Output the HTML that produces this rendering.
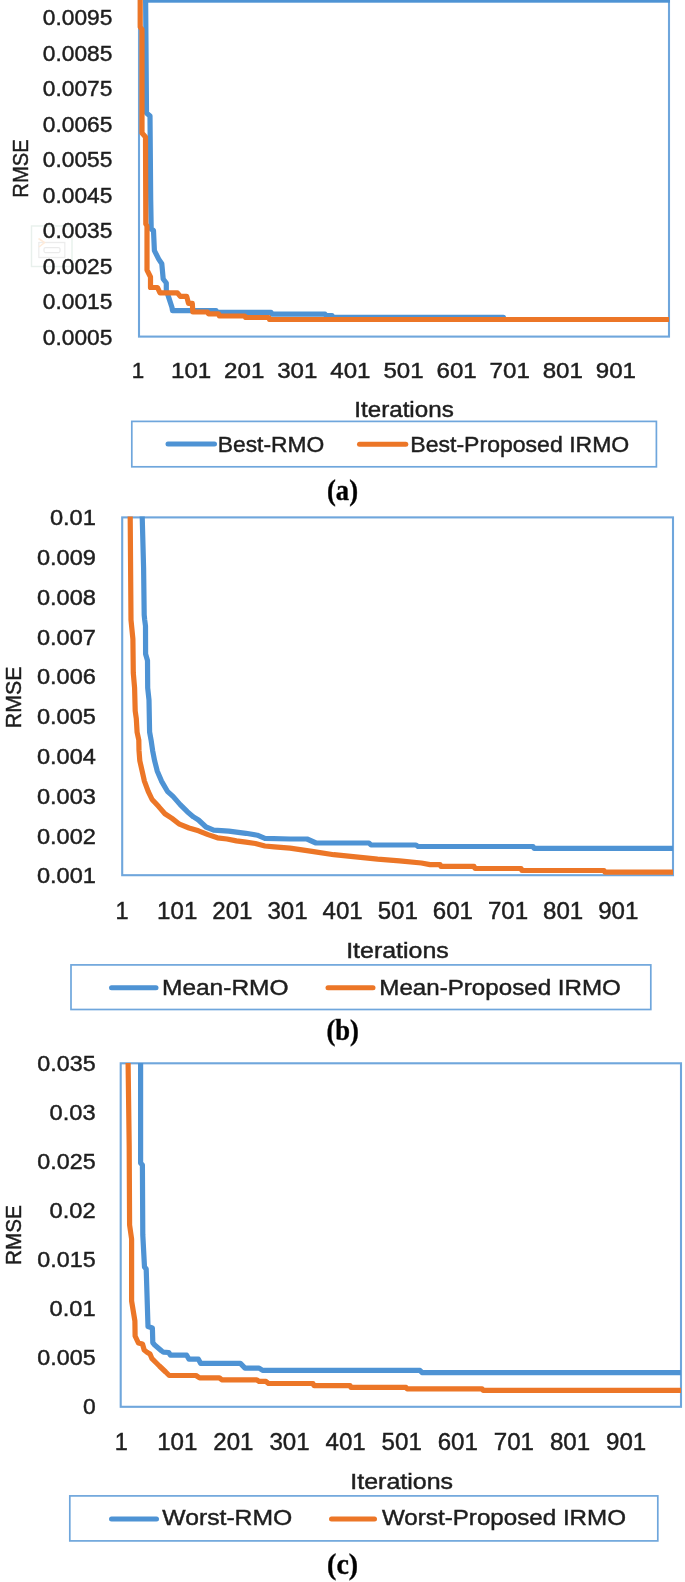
<!DOCTYPE html>
<html><head><meta charset="utf-8"><title>RMSE convergence charts</title>
<style>
html,body{margin:0;padding:0;background:#fff;width:685px;height:1582px;overflow:hidden;}
svg{display:block;filter:blur(0.3px);}
svg text{font-family:"Liberation Sans",sans-serif;fill:#1e1e1e;stroke:#1e1e1e;stroke-width:0.45px;}
svg text.cap{font-family:"Liberation Serif",serif;font-weight:bold;fill:#000;}
</style></head>
<body>
<svg width="685" height="1582" viewBox="0 0 685 1582">
<rect width="685" height="1582" fill="#fff"/>
<g fill="none" opacity="0.9"><rect x="31.5" y="226" width="40.5" height="40.5" stroke="#e6efea" stroke-width="1.4"/><rect x="38.8" y="242.5" width="26" height="15" stroke="#ebebeb" stroke-width="1.3"/><rect x="44" y="247.6" width="16" height="5" rx="1.5" stroke="#e8e8e8" stroke-width="1.2"/><path d="M38.5,238.5 L44.5,242.5 L39,247" stroke="#fee9d6" stroke-width="1.6"/></g>
<rect x="139" y="-1" width="530" height="337.6" fill="none" stroke="#6fa6dc" stroke-width="2.1"/>
<text x="112.3" y="25.1" font-size="22.2" text-anchor="end" textLength="69.5" lengthAdjust="spacingAndGlyphs">0.0095</text>
<text x="112.3" y="60.6" font-size="22.2" text-anchor="end" textLength="69.5" lengthAdjust="spacingAndGlyphs">0.0085</text>
<text x="112.3" y="96.1" font-size="22.2" text-anchor="end" textLength="69.5" lengthAdjust="spacingAndGlyphs">0.0075</text>
<text x="112.3" y="131.6" font-size="22.2" text-anchor="end" textLength="69.5" lengthAdjust="spacingAndGlyphs">0.0065</text>
<text x="112.3" y="167.1" font-size="22.2" text-anchor="end" textLength="69.5" lengthAdjust="spacingAndGlyphs">0.0055</text>
<text x="112.3" y="202.6" font-size="22.2" text-anchor="end" textLength="69.5" lengthAdjust="spacingAndGlyphs">0.0045</text>
<text x="112.3" y="238.0" font-size="22.2" text-anchor="end" textLength="69.5" lengthAdjust="spacingAndGlyphs">0.0035</text>
<text x="112.3" y="273.5" font-size="22.2" text-anchor="end" textLength="69.5" lengthAdjust="spacingAndGlyphs">0.0025</text>
<text x="112.3" y="309.0" font-size="22.2" text-anchor="end" textLength="69.5" lengthAdjust="spacingAndGlyphs">0.0015</text>
<text x="112.3" y="344.5" font-size="22.2" text-anchor="end" textLength="69.5" lengthAdjust="spacingAndGlyphs">0.0005</text>
<text x="138.0" y="378.0" font-size="22.4" text-anchor="middle">1</text>
<text x="191.1" y="378.0" font-size="22.4" text-anchor="middle" textLength="40.2" lengthAdjust="spacingAndGlyphs">101</text>
<text x="244.2" y="378.0" font-size="22.4" text-anchor="middle" textLength="40.2" lengthAdjust="spacingAndGlyphs">201</text>
<text x="297.3" y="378.0" font-size="22.4" text-anchor="middle" textLength="40.2" lengthAdjust="spacingAndGlyphs">301</text>
<text x="350.4" y="378.0" font-size="22.4" text-anchor="middle" textLength="40.2" lengthAdjust="spacingAndGlyphs">401</text>
<text x="403.5" y="378.0" font-size="22.4" text-anchor="middle" textLength="40.2" lengthAdjust="spacingAndGlyphs">501</text>
<text x="456.6" y="378.0" font-size="22.4" text-anchor="middle" textLength="40.2" lengthAdjust="spacingAndGlyphs">601</text>
<text x="509.7" y="378.0" font-size="22.4" text-anchor="middle" textLength="40.2" lengthAdjust="spacingAndGlyphs">701</text>
<text x="562.8" y="378.0" font-size="22.4" text-anchor="middle" textLength="40.2" lengthAdjust="spacingAndGlyphs">801</text>
<text x="615.9" y="378.0" font-size="22.4" text-anchor="middle" textLength="40.2" lengthAdjust="spacingAndGlyphs">901</text>
<text x="404.0" y="416.6" font-size="21.5" text-anchor="middle" textLength="99.5" lengthAdjust="spacingAndGlyphs">Iterations</text>
<polyline points="145.6,-3.0 146.5,113.0 150.0,116.0 150.7,200.0 151.2,229.0 153.5,230.5 154.4,250.6 158.7,259.1 161.8,263.7 163.2,279.0 166.3,283.0 166.3,290.0 168.3,296.1 172.0,307.5 172.5,310.6 216.0,310.6 217.0,312.4 271.0,312.4 272.0,314.1 325.0,314.1 326.0,315.6 332.0,315.6 333.0,317.3 503.5,317.3 504.0,319.5 669.0,319.5" fill="none" stroke="#4e93d4" stroke-width="5.2" stroke-linejoin="round" stroke-linecap="butt"/>
<rect x="143" y="0" width="527" height="2.7" fill="#4e93d4"/>
<polyline points="140.2,-3.0 140.2,27.0 142.0,29.5 142.0,133.0 145.5,137.0 145.8,224.0 147.0,226.0 147.0,270.0 150.5,277.0 150.5,287.5 157.5,287.5 159.9,292.8 177.4,292.8 180.3,296.3 186.7,296.3 188.5,303.3 192.3,303.3 192.8,312.0 207.6,312.0 208.5,313.9 218.6,313.9 219.4,316.0 244.9,316.0 245.5,317.5 268.9,317.5 269.5,319.5 669.0,319.5" fill="none" stroke="#ec7627" stroke-width="5.2" stroke-linejoin="round" stroke-linecap="butt"/>
<rect x="131.8" y="421.4" width="524.6" height="45.4" fill="none" stroke="#6fa6dc" stroke-width="1.7"/>
<line x1="168" y1="444" x2="214.5" y2="444" stroke="#4e93d4" stroke-width="5" stroke-linecap="round"/>
<text x="217.8" y="452.1" font-size="22.5" text-anchor="start" textLength="106.5" lengthAdjust="spacingAndGlyphs">Best-RMO</text>
<line x1="359.5" y1="444.2" x2="405.8" y2="444.2" stroke="#ec7627" stroke-width="5" stroke-linecap="round"/>
<text x="410.3" y="452.1" font-size="22.5" text-anchor="start" textLength="219" lengthAdjust="spacingAndGlyphs">Best-Proposed IRMO</text>
<text x="342.5" y="499.5" class="cap" font-size="29.5" text-anchor="middle" textLength="31" lengthAdjust="spacingAndGlyphs">(a)</text>
<text transform="translate(28,168.5) rotate(-90)" font-size="21.5" text-anchor="middle" textLength="58.4" lengthAdjust="spacingAndGlyphs">RMSE</text>
<rect x="122.2" y="517.4" width="550.8" height="357.80000000000007" fill="none" stroke="#6fa6dc" stroke-width="2.1"/>
<text x="95.9" y="525.1" font-size="22.2" text-anchor="end" textLength="46" lengthAdjust="spacingAndGlyphs">0.01</text>
<text x="95.9" y="564.9" font-size="22.2" text-anchor="end" textLength="59" lengthAdjust="spacingAndGlyphs">0.009</text>
<text x="95.9" y="604.7" font-size="22.2" text-anchor="end" textLength="59" lengthAdjust="spacingAndGlyphs">0.008</text>
<text x="95.9" y="644.5" font-size="22.2" text-anchor="end" textLength="59" lengthAdjust="spacingAndGlyphs">0.007</text>
<text x="95.9" y="684.3" font-size="22.2" text-anchor="end" textLength="59" lengthAdjust="spacingAndGlyphs">0.006</text>
<text x="95.9" y="724.1" font-size="22.2" text-anchor="end" textLength="59" lengthAdjust="spacingAndGlyphs">0.005</text>
<text x="95.9" y="763.9" font-size="22.2" text-anchor="end" textLength="59" lengthAdjust="spacingAndGlyphs">0.004</text>
<text x="95.9" y="803.7" font-size="22.2" text-anchor="end" textLength="59" lengthAdjust="spacingAndGlyphs">0.003</text>
<text x="95.9" y="843.5" font-size="22.2" text-anchor="end" textLength="59" lengthAdjust="spacingAndGlyphs">0.002</text>
<text x="95.9" y="883.3" font-size="22.2" text-anchor="end" textLength="59" lengthAdjust="spacingAndGlyphs">0.001</text>
<text x="122.1" y="918.5" font-size="23.5" text-anchor="middle">1</text>
<text x="177.2" y="918.5" font-size="23.5" text-anchor="middle" textLength="40.2" lengthAdjust="spacingAndGlyphs">101</text>
<text x="232.4" y="918.5" font-size="23.5" text-anchor="middle" textLength="40.2" lengthAdjust="spacingAndGlyphs">201</text>
<text x="287.5" y="918.5" font-size="23.5" text-anchor="middle" textLength="40.2" lengthAdjust="spacingAndGlyphs">301</text>
<text x="342.6" y="918.5" font-size="23.5" text-anchor="middle" textLength="40.2" lengthAdjust="spacingAndGlyphs">401</text>
<text x="397.8" y="918.5" font-size="23.5" text-anchor="middle" textLength="40.2" lengthAdjust="spacingAndGlyphs">501</text>
<text x="452.9" y="918.5" font-size="23.5" text-anchor="middle" textLength="40.2" lengthAdjust="spacingAndGlyphs">601</text>
<text x="508.0" y="918.5" font-size="23.5" text-anchor="middle" textLength="40.2" lengthAdjust="spacingAndGlyphs">701</text>
<text x="563.1" y="918.5" font-size="23.5" text-anchor="middle" textLength="40.2" lengthAdjust="spacingAndGlyphs">801</text>
<text x="618.3" y="918.5" font-size="23.5" text-anchor="middle" textLength="40.2" lengthAdjust="spacingAndGlyphs">901</text>
<text x="397.5" y="958.0" font-size="21.5" text-anchor="middle" textLength="102.7" lengthAdjust="spacingAndGlyphs">Iterations</text>
<polyline points="142.2,516.5 143.6,568.0 144.2,615.0 144.7,620.0 145.5,626.0 145.6,654.0 147.5,660.5 147.7,688.0 149.0,700.0 149.6,732.0 151.1,740.2 152.6,750.4 154.6,760.7 157.2,770.9 161.5,781.1 167.4,791.3 173.0,796.4 180.2,804.6 187.3,811.7 193.5,816.9 198.5,820.0 206.0,827.0 213.7,830.2 228.8,831.2 245.9,833.3 257.3,835.2 264.9,838.4 290.0,839.0 307.0,839.0 316.0,843.0 369.0,843.0 371.0,845.0 416.0,845.0 418.0,846.5 533.0,846.5 534.0,848.3 673.0,848.3" fill="none" stroke="#4e93d4" stroke-width="5.2" stroke-linejoin="round" stroke-linecap="butt"/>
<polyline points="130.2,516.5 131.0,620.0 132.9,639.0 133.3,673.0 134.6,688.0 135.2,711.0 136.3,718.6 137.1,732.3 138.8,740.0 139.0,750.4 139.8,760.7 142.1,770.9 144.4,781.1 148.2,791.3 152.1,799.5 158.7,806.6 164.9,813.8 172.0,818.4 179.5,824.2 189.0,828.0 198.5,830.8 208.0,834.6 217.4,837.8 227.0,839.0 236.4,840.9 245.9,842.2 255.4,843.5 264.9,846.0 274.4,846.9 290.0,848.1 312.0,851.4 333.8,854.7 355.7,856.9 377.6,859.1 399.5,860.8 421.4,863.0 430.0,864.6 440.0,864.6 441.0,866.4 474.0,866.4 475.0,868.5 521.0,868.5 522.0,870.5 604.0,870.5 605.0,872.2 673.0,872.2" fill="none" stroke="#ec7627" stroke-width="5.2" stroke-linejoin="round" stroke-linecap="butt"/>
<rect x="71" y="964.9" width="579.8" height="44.6" fill="none" stroke="#6fa6dc" stroke-width="1.7"/>
<line x1="111.5" y1="987.7" x2="156" y2="987.7" stroke="#4e93d4" stroke-width="5" stroke-linecap="round"/>
<text x="162.0" y="994.7" font-size="22.5" text-anchor="start" textLength="126.5" lengthAdjust="spacingAndGlyphs">Mean-RMO</text>
<line x1="328" y1="987.7" x2="373" y2="987.7" stroke="#ec7627" stroke-width="5" stroke-linecap="round"/>
<text x="379.3" y="994.7" font-size="22.5" text-anchor="start" textLength="241.5" lengthAdjust="spacingAndGlyphs">Mean-Proposed IRMO</text>
<text x="342.7" y="1039.7" class="cap" font-size="29.5" text-anchor="middle" textLength="32.5" lengthAdjust="spacingAndGlyphs">(b)</text>
<text transform="translate(21,697.3) rotate(-90)" font-size="21.5" text-anchor="middle" textLength="61.7" lengthAdjust="spacingAndGlyphs">RMSE</text>
<rect x="120.7" y="1063.3" width="560.3" height="343.5" fill="none" stroke="#6fa6dc" stroke-width="2.1"/>
<text x="95.6" y="1071.0" font-size="22.2" text-anchor="end" textLength="58.3" lengthAdjust="spacingAndGlyphs">0.035</text>
<text x="95.6" y="1120.0" font-size="22.2" text-anchor="end" textLength="46" lengthAdjust="spacingAndGlyphs">0.03</text>
<text x="95.6" y="1169.0" font-size="22.2" text-anchor="end" textLength="58.3" lengthAdjust="spacingAndGlyphs">0.025</text>
<text x="95.6" y="1218.0" font-size="22.2" text-anchor="end" textLength="46" lengthAdjust="spacingAndGlyphs">0.02</text>
<text x="95.6" y="1267.0" font-size="22.2" text-anchor="end" textLength="58.3" lengthAdjust="spacingAndGlyphs">0.015</text>
<text x="95.6" y="1316.0" font-size="22.2" text-anchor="end" textLength="46" lengthAdjust="spacingAndGlyphs">0.01</text>
<text x="95.6" y="1365.0" font-size="22.2" text-anchor="end" textLength="58.3" lengthAdjust="spacingAndGlyphs">0.005</text>
<text x="95.6" y="1414.0" font-size="22.2" text-anchor="end" textLength="12.7" lengthAdjust="spacingAndGlyphs">0</text>
<text x="121.2" y="1450.0" font-size="23.5" text-anchor="middle">1</text>
<text x="177.3" y="1450.0" font-size="23.5" text-anchor="middle" textLength="40.2" lengthAdjust="spacingAndGlyphs">101</text>
<text x="233.4" y="1450.0" font-size="23.5" text-anchor="middle" textLength="40.2" lengthAdjust="spacingAndGlyphs">201</text>
<text x="289.5" y="1450.0" font-size="23.5" text-anchor="middle" textLength="40.2" lengthAdjust="spacingAndGlyphs">301</text>
<text x="345.6" y="1450.0" font-size="23.5" text-anchor="middle" textLength="40.2" lengthAdjust="spacingAndGlyphs">401</text>
<text x="401.7" y="1450.0" font-size="23.5" text-anchor="middle" textLength="40.2" lengthAdjust="spacingAndGlyphs">501</text>
<text x="457.8" y="1450.0" font-size="23.5" text-anchor="middle" textLength="40.2" lengthAdjust="spacingAndGlyphs">601</text>
<text x="513.9" y="1450.0" font-size="23.5" text-anchor="middle" textLength="40.2" lengthAdjust="spacingAndGlyphs">701</text>
<text x="570.0" y="1450.0" font-size="23.5" text-anchor="middle" textLength="40.2" lengthAdjust="spacingAndGlyphs">801</text>
<text x="626.1" y="1450.0" font-size="23.5" text-anchor="middle" textLength="40.2" lengthAdjust="spacingAndGlyphs">901</text>
<text x="401.7" y="1489.2" font-size="21.5" text-anchor="middle" textLength="102.7" lengthAdjust="spacingAndGlyphs">Iterations</text>
<polyline points="140.6,1063.0 140.6,1163.0 142.4,1165.0 142.8,1235.0 144.5,1267.0 146.2,1269.0 148.0,1326.6 152.4,1328.0 152.8,1342.8 154.7,1345.0 161.7,1351.0 163.4,1352.2 168.7,1352.5 170.4,1355.2 186.7,1355.2 189.0,1359.2 198.4,1359.2 200.7,1363.4 240.4,1363.4 245.0,1368.1 259.1,1368.1 262.6,1370.4 420.0,1370.4 422.0,1372.6 681.0,1372.6" fill="none" stroke="#4e93d4" stroke-width="5.2" stroke-linejoin="round" stroke-linecap="butt"/>
<polyline points="128.1,1063.0 129.2,1146.0 129.6,1225.0 131.6,1239.0 131.6,1301.0 134.9,1321.0 135.1,1336.0 138.4,1343.0 142.5,1344.0 144.2,1350.0 147.0,1352.2 150.0,1354.0 152.0,1358.7 156.4,1363.0 159.4,1366.0 165.7,1372.0 169.2,1375.5 196.0,1375.5 199.6,1377.9 219.4,1377.9 221.8,1379.8 256.8,1379.8 259.0,1381.4 266.0,1381.4 268.5,1383.5 313.0,1383.5 314.0,1385.6 350.0,1385.6 351.0,1387.4 406.0,1387.4 407.0,1388.8 482.0,1388.8 483.0,1390.3 681.0,1390.3" fill="none" stroke="#ec7627" stroke-width="5.2" stroke-linejoin="round" stroke-linecap="butt"/>
<rect x="69.8" y="1495.9" width="588" height="45" fill="none" stroke="#6fa6dc" stroke-width="1.7"/>
<line x1="111.5" y1="1518.9" x2="156.5" y2="1518.9" stroke="#4e93d4" stroke-width="5" stroke-linecap="round"/>
<text x="162.3" y="1525.0" font-size="22.5" text-anchor="start" textLength="130" lengthAdjust="spacingAndGlyphs">Worst-RMO</text>
<line x1="331.5" y1="1518.9" x2="374.5" y2="1518.9" stroke="#ec7627" stroke-width="5" stroke-linecap="round"/>
<text x="382.0" y="1525.0" font-size="22.5" text-anchor="start" textLength="244" lengthAdjust="spacingAndGlyphs">Worst-Proposed IRMO</text>
<text x="342.6" y="1573.5" class="cap" font-size="29.5" text-anchor="middle" textLength="31" lengthAdjust="spacingAndGlyphs">(c)</text>
<text transform="translate(21,1235) rotate(-90)" font-size="21.5" text-anchor="middle" textLength="59.8" lengthAdjust="spacingAndGlyphs">RMSE</text>
</svg>
</body></html>
